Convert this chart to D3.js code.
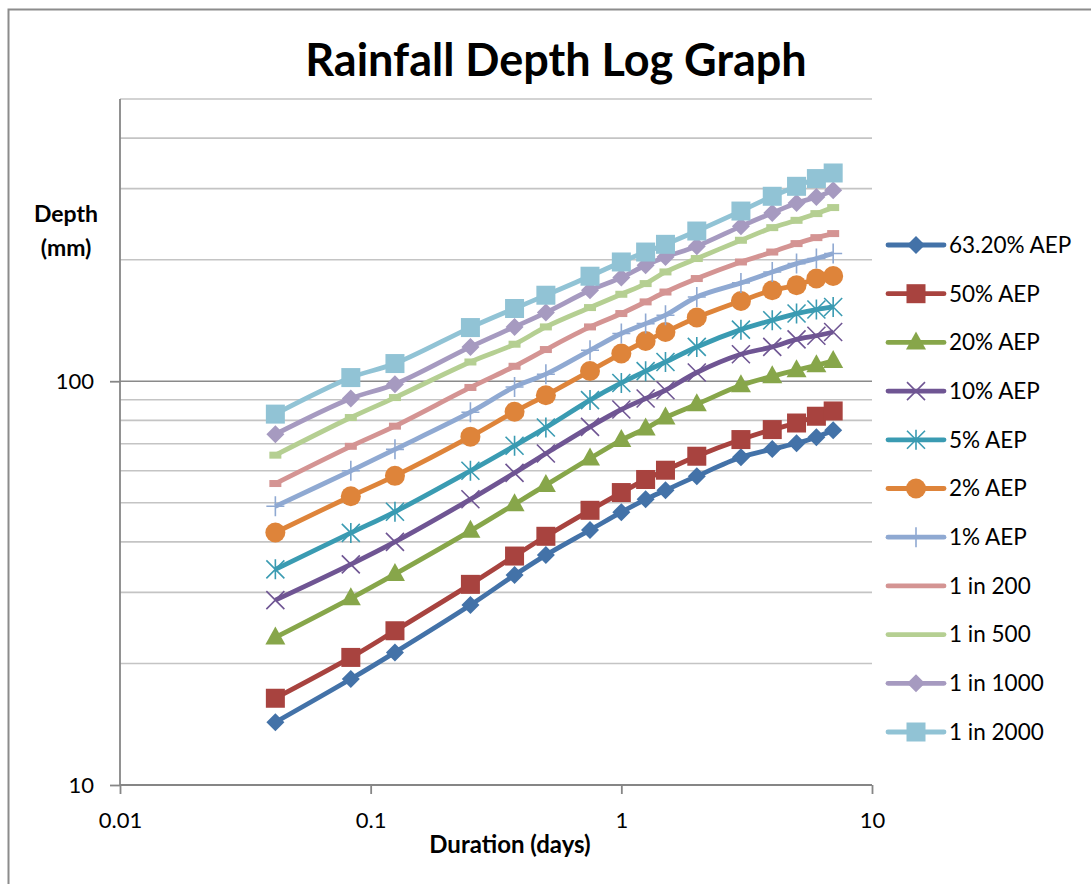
<!DOCTYPE html>
<html lang="en">
<head>
    <meta charset="UTF-8">
    <title>Rainfall Depth Log Graph</title>
    <script src="https://d3js.org/d3.v7.min.js"></script>
    <style>
        body {margin: 0; background: white;}
        text {font-family: Lato, "Open Sans", sans-serif; fill: black;}
    </style>
</head>
<body>
<script>
    const width = 1091;
    const height = 884;

    // durations in days (1h, 2h, 3h, 6h, 9h, 12h, 18h, 1d ... 7d)
    const durations = [1/24, 2/24, 3/24, 6/24, 9/24, 12/24, 18/24, 1, 1.25, 1.5, 2, 3, 4, 5, 6, 7];

    const aep632  = [14.3, 18.3, 21.3, 27.9, 33.1, 37.1, 42.8, 47.4, 51.0, 53.7, 58.2, 64.8, 67.9, 70.2, 72.7, 75.6];
    const aep50   = [16.4, 20.7, 24.1, 31.4, 36.9, 41.3, 47.9, 53.0, 57.1, 60.2, 65.2, 71.7, 75.9, 78.8, 81.9, 84.4];
    const aep20   = [23.2, 29.0, 33.3, 42.6, 49.6, 55.3, 64.4, 71.5, 76.4, 81.3, 87.7, 97.7, 102.9, 106.5, 109.5, 112.3];
    const aep10   = [28.7, 35.2, 40.0, 51.0, 59.3, 66.2, 77.1, 85.1, 90.6, 95.0, 105.1, 116.6, 121.6, 127.0, 129.6, 132.4];
    const aep5    = [34.2, 42.1, 47.5, 60.0, 69.2, 76.8, 89.8, 99.0, 105.9, 111.6, 121.6, 134.2, 141.6, 147.1, 150.5, 152.7];
    const aep2    = [42.2, 51.9, 58.3, 72.9, 84.0, 92.3, 106.0, 117.1, 125.8, 132.4, 143.8, 158.0, 168.0, 172.9, 179.6, 182.2];
    const aep1    = [49.0, 60.0, 67.8, 83.8, 96.8, 104.1, 119.3, 131.3, 138.9, 145.7, 161.7, 175.2, 186.5, 195.6, 201.3, 207.1];
    const in200   = [55.8, 69.0, 77.4, 96.5, 108.9, 119.8, 136.3, 147.1, 157.2, 166.3, 179.6, 197.4, 208.9, 219.2, 226.8, 232.1];
    const in500   = [65.6, 81.3, 91.1, 111.6, 123.5, 136.3, 152.2, 164.2, 174.5, 186.5, 201.3, 223.4, 240.1, 250.3, 260.1, 269.2];
    const in1000  = [73.9, 90.6, 98.3, 121.6, 136.3, 147.9, 168.0, 180.6, 193.7, 203.1, 215.9, 241.9, 261.0, 276.3, 285.8, 297.0];
    const in2000  = [82.9, 102.1, 110.6, 135.8, 151.4, 163.3, 182.0, 197.4, 208.9, 218.3, 235.5, 263.9, 287.1, 303.9, 317.6, 327.9];

    const seriesNames = ["63.20% AEP", "50% AEP", "20% AEP", "10% AEP", "5% AEP", "2% AEP",
                         "1% AEP", "1 in 200", "1 in 500", "1 in 1000", "1 in 2000"];
    const seriesValues = [aep632, aep50, aep20, aep10, aep5, aep2, aep1, in200, in500, in1000, in2000];

    const xTicks = [0.01, 0.1, 1, 10];
    const yTicks = [10, 100];
    const yGrid = [20, 30, 40, 50, 60, 70, 80, 90, 100, 200, 300, 400, 500];

    // styling per series
    const colors = ["#4372a8", "#a8433f", "#87a64a", "#6f5593", "#3a9bb2", "#de843a",
                    "#8fa9d2", "#d49493", "#b5cf92", "#a69ac0", "#91c3d5"];
    const markers = ["diamond", "square", "triangle", "x", "star", "circle",
                     "plus", "dash", "dash", "diamond", "square"];

    const x = d3.scaleLog().domain([0.01, 10]).range([120, 872]);
    const y = d3.scaleLog().domain([10, 500]).range([785, 99]);

    const svg = d3.select("body").append("svg")
            .attr("width", width).attr("height", height);

    // outer chart border
    svg.append("rect")
            .attr("x", 8.5).attr("y", 9.5)
            .attr("width", 1200).attr("height", 1000)
            .attr("fill", "white").attr("stroke", "#8c8c8c").attr("stroke-width", 2);

    // gridlines
    svg.append("g").selectAll("line")
            .data(yGrid).enter().append("line")
            .attr("x1", 120).attr("x2", 872)
            .attr("y1", d => y(d)).attr("y2", d => y(d))
            .attr("stroke", d => d === 100 ? "#8a8a8a" : "#c4c4c4")
            .attr("stroke-width", 1.6);

    // axes
    const xAxis = svg.append("g").attr("transform", "translate(0,785)")
            .call(d3.axisBottom(x).tickValues(xTicks).tickSize(9).tickPadding(18)
                    .tickFormat(d3.format("~g")));
    const yAxis = svg.append("g").attr("transform", "translate(120,0)")
            .call(d3.axisLeft(y).tickValues(yTicks).tickSize(10).tickPadding(16)
                    .tickFormat(d3.format("d")));
    [xAxis, yAxis].forEach(a => {
        a.select(".domain").attr("stroke", "#868686").attr("stroke-width", 1.8);
        a.selectAll(".tick line").attr("stroke", "#868686").attr("stroke-width", 1.8);
        a.selectAll(".tick text").style("font-size", "22px")
                .style("font-family", "Lato, sans-serif").attr("fill", "black");
    });
    yAxis.select(".domain").attr("d", "M0,785V99");
    xAxis.select(".domain").attr("d", "M120,0H872");

    // titles
    svg.append("text").attr("x", 556).attr("y", 76)
            .attr("text-anchor", "middle")
            .style("font-size", "45px").style("font-weight", "bold")
            .text("Rainfall Depth Log Graph");
    svg.append("text").attr("x", 66).attr("y", 222)
            .attr("text-anchor", "middle")
            .style("font-size", "23px").style("font-weight", "bold")
            .text("Depth");
    svg.append("text").attr("x", 66).attr("y", 256)
            .attr("text-anchor", "middle")
            .style("font-size", "23px").style("font-weight", "bold")
            .text("(mm)");
    svg.append("text").attr("x", 510).attr("y", 853)
            .attr("text-anchor", "middle")
            .style("font-size", "24px").style("font-weight", "bold")
            .text("Duration (days)");

    const line = d3.line()
            .x(d => x(d[0])).y(d => y(d[1]))
            .curve(d3.curveCatmullRom.alpha(0.5));

    function drawMarker(g, type, color) {
        if (type === "diamond") {
            g.append("path").attr("d", "M0,-9L9,0L0,9L-9,0Z").attr("fill", color);
        } else if (type === "square") {
            g.append("rect").attr("x", -9.5).attr("y", -9.5)
                    .attr("width", 19).attr("height", 19).attr("fill", color);
        } else if (type === "triangle") {
            g.append("path").attr("d", "M0,-11L10,7L-10,7Z").attr("fill", color);
        } else if (type === "circle") {
            g.append("circle").attr("r", 10).attr("fill", color);
        } else if (type === "x") {
            g.append("path").attr("d", "M-9,-9L9,9M-9,9L9,-9")
                    .attr("stroke", color).attr("stroke-width", 1.6);
        } else if (type === "star") {
            g.append("path").attr("d", "M-9,-9L9,9M-9,9L9,-9M0,-10V10")
                    .attr("stroke", color).attr("stroke-width", 1.6);
        } else if (type === "plus") {
            g.append("path").attr("d", "M-9,0H9M0,-10V10")
                    .attr("stroke", color).attr("stroke-width", 1.6);
        } else if (type === "dash") {
            g.append("rect").attr("x", -6).attr("y", -3.5)
                    .attr("width", 12).attr("height", 7).attr("fill", color);
        }
    }

    const series = seriesNames.map((name, i) => ({
        name: name,
        color: colors[i],
        marker: markers[i],
        points: durations.map((d, j) => [d, seriesValues[i][j]])
    }));

    series.forEach(s => {
        const g = svg.append("g").attr("class", "series");
        g.append("path").datum(s.points)
                .attr("d", line)
                .attr("fill", "none")
                .attr("stroke", s.color)
                .attr("stroke-width", 4.8)
                .attr("stroke-linejoin", "round");
        g.selectAll("g.pt").data(s.points).enter()
                .append("g").attr("class", "pt")
                .attr("transform", d => `translate(${x(d[0])},${y(d[1])})`)
                .each(function() { drawMarker(d3.select(this), s.marker, s.color); });
    });

    // legend
    const legend = svg.append("g").selectAll("g")
            .data(series).enter().append("g")
            .attr("transform", (d, i) => `translate(888,${245 + i * 48.7})`);
    legend.append("line")
            .attr("x1", 0).attr("x2", 56)
            .attr("stroke", d => d.color).attr("stroke-width", 4.8)
            .attr("stroke-linecap", "round");
    legend.append("g").attr("transform", "translate(28,0)")
            .each(function(d) {
                if (d.marker !== "dash") drawMarker(d3.select(this), d.marker, d.color);
            });
    legend.append("text")
            .attr("x", 61).attr("dy", "0.35em")
            .style("font-size", "22.5px")
            .text(d => d.name);
</script>
</body>
</html>
